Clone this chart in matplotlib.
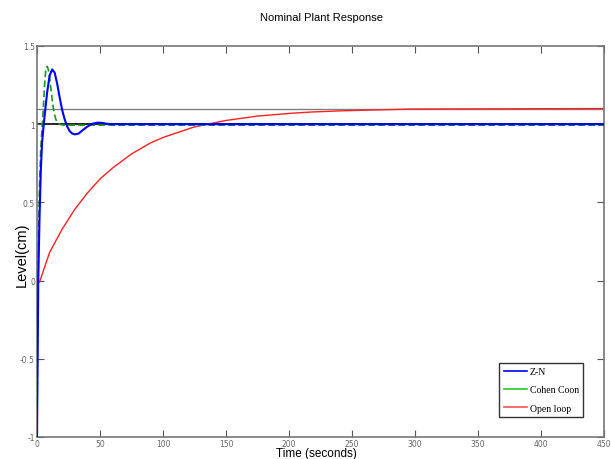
import matplotlib
matplotlib.use("Agg")
import matplotlib.pyplot as plt

# Z-N response
t_zn = [0, 0.5, 1, 2, 3, 4, 5, 6, 8, 10, 12, 14, 16, 18, 20, 22, 24, 26, 28, 30,
        33, 36, 40, 44, 48, 52, 56, 60, 450]
y_zn = [-1, -0.5, 0.0, 0.4, 0.7, 0.88, 0.97, 1.05, 1.2, 1.31, 1.35, 1.33, 1.26, 1.17,
        1.09, 1.03, 0.985, 0.955, 0.94, 0.935, 0.94, 0.96, 0.985, 1.003, 1.01, 1.008,
        1.002, 1.0, 1.0]

# Cohen Coon response
t_cc = [0, 0.5, 1, 2, 3, 4, 5, 6, 7, 8, 9, 10, 11, 12, 13, 14, 15, 16, 18, 20, 25, 450]
y_cc = [-1, -0.3, 0.2, 0.6, 0.85, 0.97, 1.1, 1.25, 1.35, 1.37, 1.35, 1.3, 1.23, 1.16,
        1.1, 1.06, 1.03, 1.015, 1.0, 0.995, 0.994, 0.994]

# Open loop response
t_ol = [0, 2, 10, 20, 30, 40, 50, 60, 75, 90, 100, 125, 150, 175, 202, 218, 243, 298, 450]
y_ol = [0, -0.01, 0.18, 0.33, 0.456, 0.56, 0.65, 0.72, 0.81, 0.88, 0.915, 0.983, 1.024,
        1.052, 1.07, 1.078, 1.086, 1.097, 1.1]

ref_lines = [1.0, 1.1]
xticks = list(range(0, 451, 50))
yticks = [-1, -0.5, 0, 0.5, 1, 1.5]
ytick_labels = ["-1", "-0.5", "0", "0.5", "1", "1.5"]

fig = plt.figure(figsize=(6.11, 4.6), dpi=100)
ax = fig.add_axes([37/611, 22/460, (604-37)/611, (438-47)/460])

ax.axhline(ref_lines[1], color="#808080", lw=1.0, zorder=1)
ax.axhline(ref_lines[0], color="black", lw=1.2, zorder=1)
ax.plot(t_ol, y_ol, color="#ff2020", lw=1.0, zorder=2)
ax.plot(t_cc, y_cc, color="#1a9a1a", lw=1.2, ls=(0, (4, 2)), zorder=3)
ax.plot(t_zn, y_zn, color="#0000ff", lw=1.5, zorder=4)

# legend proxies
h1, = ax.plot([], [], color="#0000ff", lw=1.2, label="Z-N")
h2, = ax.plot([], [], color="#22cc22", lw=1.2, label="Cohen Coon")
h3, = ax.plot([], [], color="#ff5050", lw=1.2, label="Open loop")

ax.set_xlim(0, 450)
ax.set_ylim(-1, 1.5)
ax.set_xticks(xticks)
ax.set_yticks(yticks)
ax.set_yticklabels(ytick_labels)
ax.tick_params(direction="in", top=True, right=True, labelsize=5.5,
               labelcolor="#666666", color="#555555", length=5, pad=1.5)
for s in ax.spines.values():
    s.set_color("#777777")
    s.set_linewidth(1.2)

leg = ax.legend(handles=[h1, h2, h3], loc="lower right",
                prop={"family": "Liberation Serif", "size": 7},
                frameon=True, fancybox=False, edgecolor="black",
                handlelength=2.4, handletextpad=0.25, borderpad=0.45,
                labelspacing=0.95, borderaxespad=0)
leg.get_frame().set_linewidth(1.0)
leg.set_bbox_to_anchor((583/611, 42/460), transform=fig.transFigure)

fig.text(322/611, 1 - 18/460, "Nominal Plant Response", ha="center", va="center",
         fontsize=8, family=["Liberation Sans", "DejaVu Sans"])
fig.text(316/611, 2.5/460, "Time (seconds)", ha="center", va="baseline",
         fontsize=8.5, family=["Liberation Sans", "DejaVu Sans"])
fig.text(22/611, 1 - 255/460, "Level(cm)", ha="center", va="center", rotation=90,
         fontsize=10.5, family=["Liberation Sans", "DejaVu Sans"])

fig.savefig("out.png", dpi=100)
